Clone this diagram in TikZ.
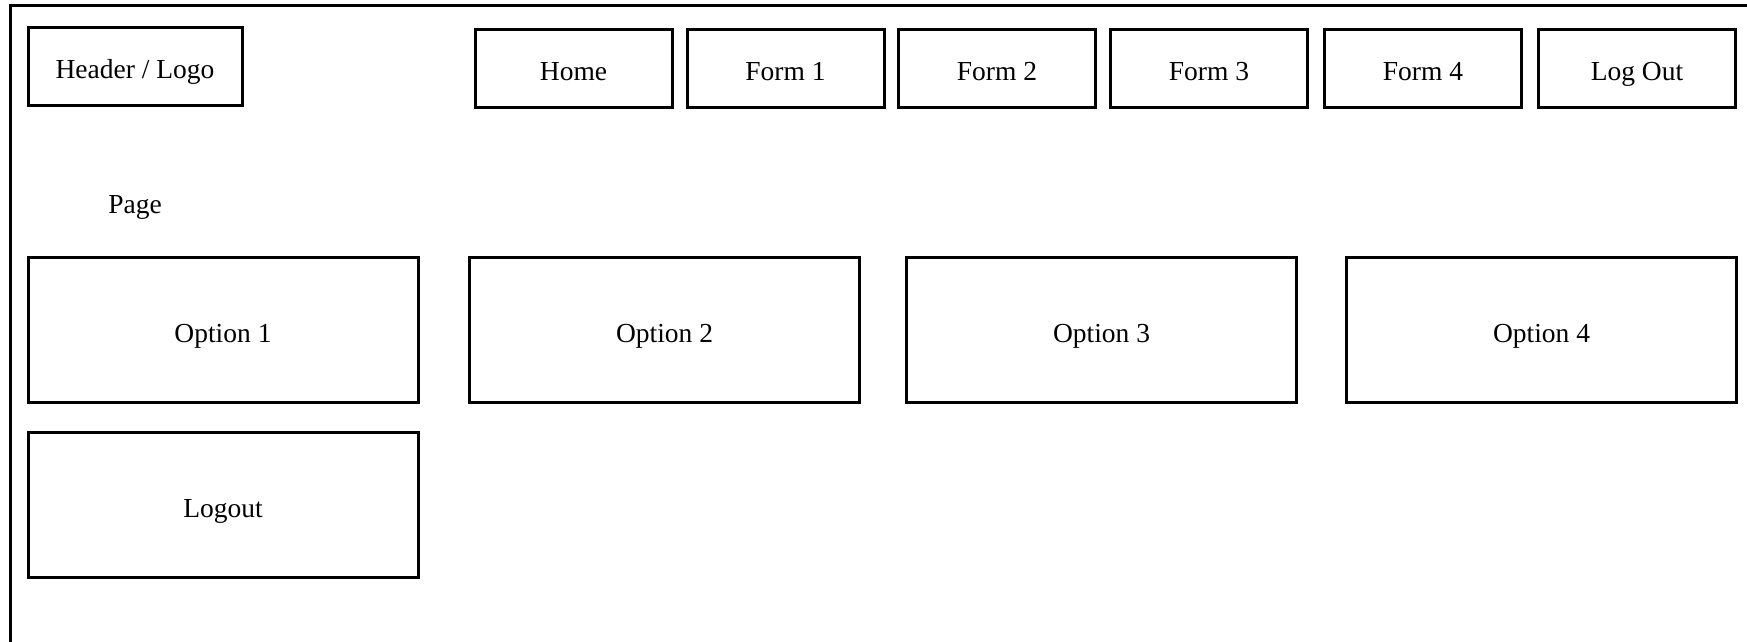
\documentclass[tikz,border=0pt]{standalone}
\usepackage{fontspec}
\setmainfont{Liberation Serif}
\begin{document}
\begin{tikzpicture}[x=1pt,y=-1pt,
  every node/.style={font=\fontsize{27.5}{33}\selectfont,text height=25pt,text depth=0pt},
  box/.style={draw=black,line width=3pt,inner sep=0pt,anchor=center},
  navbox/.style={box,minimum width=197pt,minimum height=78pt},
  optbox/.style={box,minimum width=390pt,minimum height=145pt}]
  \useasboundingbox (0,0) rectangle (1747,641);
  % page frame (open at the right and bottom)
  \draw[line width=3pt] (10,645) -- (10,5) -- (1750,5);
  % header
  \node[box,minimum width=214pt,minimum height=78pt] (logo) at (135,66) {Header / Logo};
  % navigation bar
  \node[navbox] (home)   at (573.5,68) {Home};
  \node[navbox] (form1)  at (785.5,68) {Form 1};
  \node[navbox] (form2)  at (997,68)   {Form 2};
  \node[navbox] (form3)  at (1209,68)  {Form 3};
  \node[navbox] (form4)  at (1423,68)  {Form 4};
  \node[navbox] (logoutnav) at (1637,68) {Log Out};
  % page content
  \node (page) at (135,200.5) {Page};
  \node[optbox] (opt1) at (223,329.5)    {Option 1};
  \node[optbox] (opt2) at (664.5,329.5)  {Option 2};
  \node[optbox] (opt3) at (1101.5,329.5) {Option 3};
  \node[optbox] (opt4) at (1541.5,329.5) {Option 4};
  \node[optbox] (logout) at (223,505)    {Logout};
\end{tikzpicture}
\end{document}
